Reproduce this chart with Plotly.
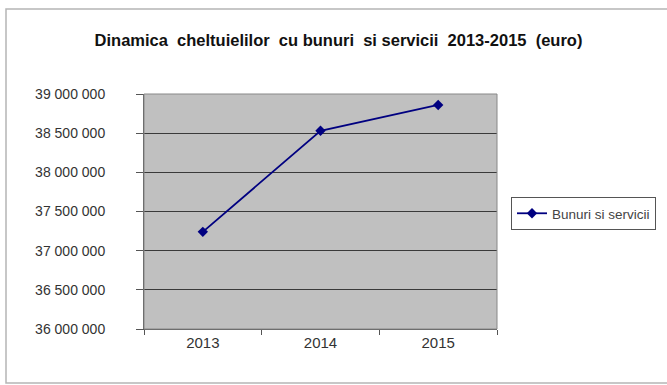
import plotly.graph_objects as go

years = ["2013", "2014", "2015"]
values = [37240000, 38530000, 38860000]
series_name = "Bunuri si servicii"
y_ticks = [36000000, 36500000, 37000000, 37500000, 38000000, 38500000, 39000000]
y_tick_labels = ["36 000 000", "36 500 000", "37 000 000", "37 500 000",
                 "38 000 000", "38 500 000", "39 000 000"]

W, H = 667, 385
L, R, T, B = 144, 497, 94, 329
FONT = "Liberation Sans Narrow, Arial Narrow, Liberation Sans, Arial, sans-serif"

fig = go.Figure()
fig.add_trace(go.Scatter(
    x=years, y=values, name=series_name, mode="lines+markers",
    line=dict(color="#000080", width=1.8),
    marker=dict(symbol="diamond", size=8, color="#000080"),
))

fig.update_layout(
    width=W, height=H,
    margin=dict(l=L, r=W - R, t=T, b=H - B, autoexpand=False),
    paper_bgcolor="white",
    plot_bgcolor="#c0c0c0",
    title=dict(text="<b>Dinamica  cheltuielilor  cu bunuri  si servicii  2013-2015  (euro)</b>",
               x=(95 + 582) / 2 / W, xanchor="center", y=1 - 40 / H, yanchor="middle",
               font=dict(family=FONT, size=16.5, color="#111111")),
    showlegend=True,
    legend=dict(x=(511 - L) / (R - L), xanchor="left",
                y=(B - 197) / (B - T), yanchor="top",
                bordercolor="#555555", borderwidth=1, bgcolor="white",
                font=dict(family=FONT, size=13.5, color="#444444"),
                itemwidth=30),
    xaxis=dict(
        type="category", range=[-0.5, 2.5],
        showgrid=False, showline=True, linecolor="#555555", linewidth=1,
        ticks="outside", tickson="boundaries", ticklen=5, tickcolor="#555555",
        tickfont=dict(family=FONT, size=15, color="#333333"),
        mirror=False, zeroline=False, fixedrange=True,
    ),
    yaxis=dict(
        range=[36000000, 39000000],
        tickvals=y_ticks, ticktext=y_tick_labels,
        showgrid=True, gridcolor="#3a3a3a", gridwidth=1.2,
        showline=True, linecolor="#555555", linewidth=1,
        ticks="outside", ticklen=7, tickcolor="#555555",
        ticklabelstandoff=28,
        tickfont=dict(family=FONT, size=14, color="#333333"),
        zeroline=False, fixedrange=True,
    ),
    shapes=[
        dict(type="rect", xref="paper", yref="paper",
             x0=(6 - L) / (R - L), x1=(668 - L) / (R - L),
             y0=(B - 383) / (B - T), y1=(B - 9) / (B - T),
             line=dict(color="#b5b5b5", width=1.5), fillcolor="rgba(0,0,0,0)",
             layer="below"),
        dict(type="rect", xref="paper", yref="paper", x0=0, x1=1, y0=0, y1=1,
             line=dict(color="#888888", width=1), fillcolor="rgba(0,0,0,0)"),
    ],
)

fig.write_html("out.html", config={"displayModeBar": False},
               post_script="document.body.style.margin='0';document.body.style.padding='0';")
